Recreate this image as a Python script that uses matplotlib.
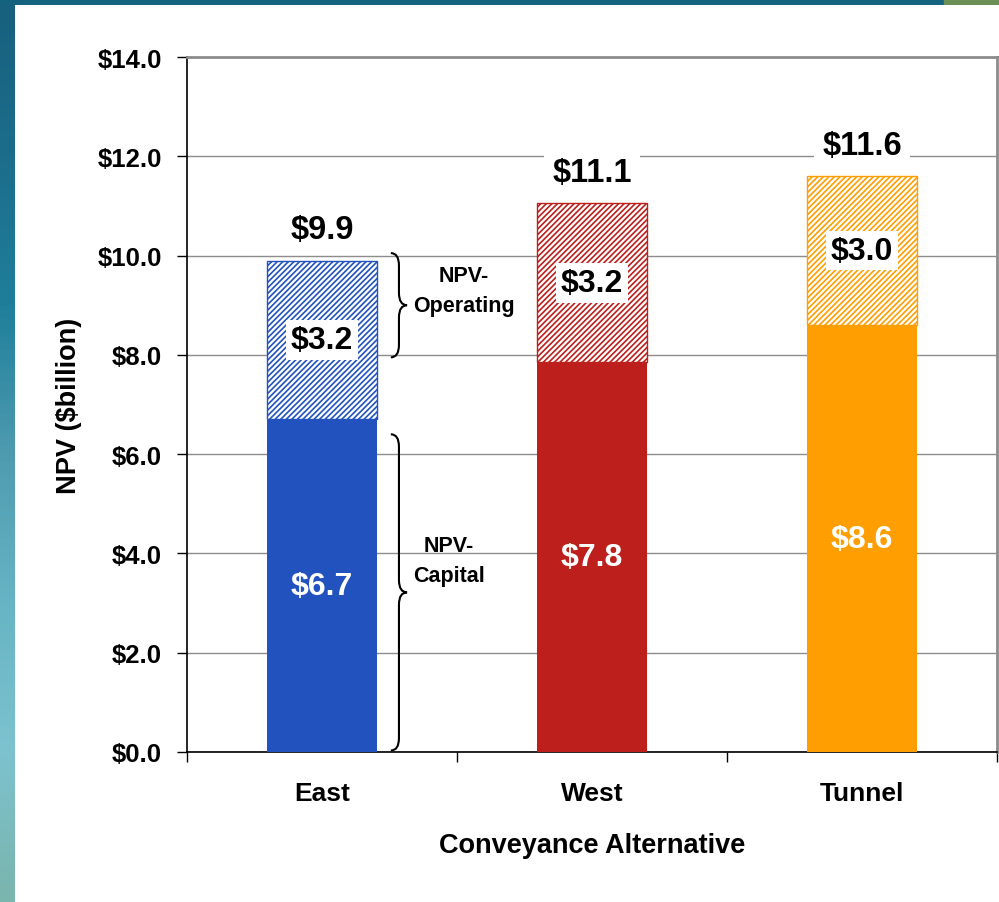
import numpy as np
import matplotlib
matplotlib.use("Agg")
import matplotlib.pyplot as plt
from matplotlib.path import Path
from matplotlib.patches import PathPatch, Rectangle
from matplotlib.colors import LinearSegmentedColormap

plt.rcParams['font.family'] = ['Liberation Sans', 'DejaVu Sans']
plt.rcParams['hatch.linewidth'] = 1.2

# ── Data ───────────────────────────────────────────────────────────
alternatives = ["East", "West", "Tunnel"]
npv_capital = [6.7, 7.85, 8.6]
npv_operating = [3.2, 3.2, 3.0]
capital_labels = ["$6.7", "$7.8", "$8.6"]
operating_labels = ["$3.2", "$3.2", "$3.0"]
total_labels = ["$9.9", "$11.1", "$11.6"]
yticks = [0, 2, 4, 6, 8, 10, 12, 14]

# ── Colours ────────────────────────────────────────────────────────
C_BARS = ["#2152BE", "#BC1F1C", "#FF9E00"]
C_GRID = "#8C8C8C"

W, H = 999, 903
fig = plt.figure(figsize=(W / 100, H / 100), dpi=100)
fig.patch.set_facecolor("white")

# slide background: dark band on top, gradient band on the left
top = fig.add_axes([0, 1 - 6 / H, 1, 6 / H])
top.add_patch(Rectangle((0, 0), 1, 1, color="#15627F"))
top.add_patch(Rectangle((0.945, 0), 0.055, 1, color="#6C8F55"))
top.set_xlim(0, 1); top.set_ylim(0, 1); top.axis("off")

left = fig.add_axes([0, 0, 15 / W, 1 - 6 / H])
cmap = LinearSegmentedColormap.from_list(
    "band", ["#7AB5AE", "#7DC2CF", "#66B4C4", "#4E9BB0", "#1F7F9B", "#1C6D8C", "#17617E"])
left.imshow(np.linspace(0, 1, 200).reshape(-1, 1), aspect="auto", cmap=cmap,
            origin="lower", extent=(0, 1, 0, 1))
left.axis("off")

# ── Chart ──────────────────────────────────────────────────────────
ax = fig.add_axes([187 / W, 150 / H, 810 / W, 695 / H])
x = np.arange(len(alternatives))
bw = 0.405

ax.bar(x, npv_capital, width=bw, color=C_BARS, zorder=3)
ax.bar(x, npv_operating, width=bw, bottom=npv_capital, color="white",
       edgecolor=C_BARS, hatch="//////", linewidth=1, zorder=3)

for i in range(len(x)):
    cap, op = npv_capital[i], npv_operating[i]
    ax.text(x[i], cap / 2, capital_labels[i], ha="center", va="center",
            color="white", fontsize=23, fontweight="bold", zorder=5)
    ax.text(x[i], cap + op / 2, operating_labels[i], ha="center", va="center",
            color="black", fontsize=23, fontweight="bold", zorder=5,
            bbox=dict(boxstyle="square,pad=0.15", fc="white", ec="none"))
    ax.text(x[i], cap + op + 0.62, total_labels[i], ha="center", va="center",
            color="black", fontsize=23.5, fontweight="bold", zorder=5,
            bbox=dict(boxstyle="square,pad=0.25", fc="white", ec="none"))


def brace(ax, xl, y0, y1, w=0.06, d=0.25):
    """Right-facing curly brace from y0 to y1 starting at x = xl."""
    xm, xt, ym = xl + w / 2, xl + w, (y0 + y1) / 2
    verts = [(xl, y1), (xm, y1), (xm, y1 - d), (xm, ym + d),
             (xm, ym), (xt, ym), (xm, ym), (xm, ym - d),
             (xm, y0 + d), (xm, y0), (xl, y0)]
    codes = [Path.MOVETO, Path.CURVE3, Path.CURVE3, Path.LINETO,
             Path.CURVE3, Path.CURVE3, Path.CURVE3, Path.CURVE3,
             Path.LINETO, Path.CURVE3, Path.CURVE3]
    ax.add_patch(PathPatch(Path(verts, codes), fc="none", ec="black",
                           lw=1.5, zorder=4, clip_on=False))


brace(ax, 0.255, 7.95, 10.05)
brace(ax, 0.255, 0.03, 6.4)
ax.text(0.525, 9.3, "NPV-\nOperating", ha="center", va="center",
        fontsize=15.5, fontweight="bold", linespacing=1.55, zorder=5)
ax.text(0.47, 3.85, "NPV-\nCapital", ha="center", va="center",
        fontsize=15.5, fontweight="bold", linespacing=1.55, zorder=5)

# ── Axes styling ───────────────────────────────────────────────────
ax.set_xlim(-0.5, 2.5)
ax.set_ylim(0, 14)
ax.set_yticks(yticks)
ax.set_yticklabels([f"${v:.1f}" for v in yticks])
ax.set_xticks([-0.5, 0.5, 1.5, 2.5])
ax.set_xticklabels([])
ax.set_xticks(x, minor=True)
ax.set_xticklabels(alternatives, minor=True)
ax.tick_params(axis="x", which="minor", length=0, pad=21, labelsize=19)
ax.tick_params(axis="x", which="major", length=7, direction="out", width=1)
ax.tick_params(axis="y", length=7, direction="out", width=1, labelsize=18.5, pad=11)
for lbl in ax.get_yticklabels() + ax.get_xticklabels(minor=True):
    lbl.set_fontweight("bold")

ax.yaxis.grid(True, color=C_GRID, linewidth=1, zorder=0)
ax.set_axisbelow(True)
for side in ("top", "right"):
    ax.spines[side].set_color(C_GRID)
    ax.spines[side].set_linewidth(2)
for side in ("left", "bottom"):
    ax.spines[side].set_color("black")
    ax.spines[side].set_linewidth(1.2)

ax.set_ylabel("NPV ($billion)", fontsize=19.5, fontweight="bold", labelpad=11)
ax.set_xlabel("Conveyance Alternative", fontsize=19.5, fontweight="bold", labelpad=19)

fig.savefig("out.png", dpi=100)
